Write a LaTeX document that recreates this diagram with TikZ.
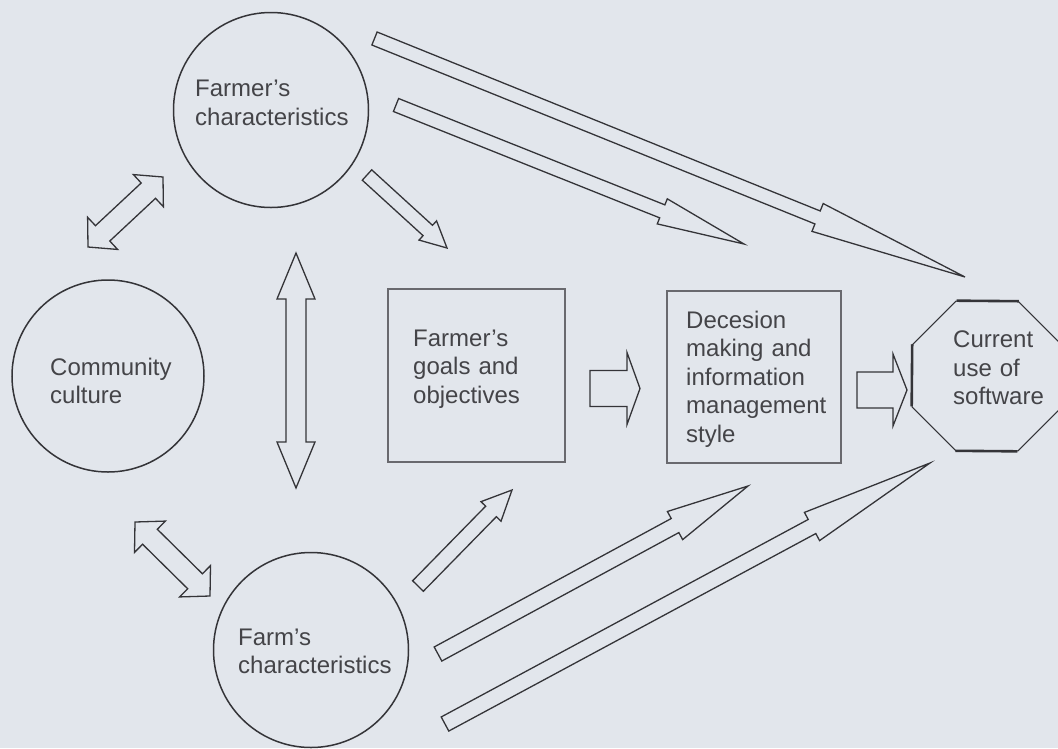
\documentclass[tikz,border=0pt]{standalone}
\usepackage{fontspec}
\setmainfont{Liberation Sans}
\usetikzlibrary{calc,shapes.geometric}

\definecolor{paper}{RGB}{226,230,236}
\definecolor{ink}{RGB}{52,52,56}
\definecolor{boxink}{RGB}{105,105,110}
\definecolor{textink}{RGB}{68,68,72}

\tikzset{
  circ/.style={draw=ink, line width=1.5pt, circle, minimum size=#1, inner sep=0pt},
  box/.style={draw=boxink, line width=1.1pt, rectangle, inner sep=0pt},
  octa/.style={draw=ink, line width=1pt, regular polygon, regular polygon sides=8,
    minimum size=162pt, inner sep=0pt},
  nodetext/.style={text=textink, font=\fontsize{24pt}{28.5pt}\selectfont,
    text width=170pt, align=left, inner sep=0pt, anchor=base west},
  blockarrow/.style={draw=ink, line width=1.3pt, line join=miter},
  edgeheavy/.style={draw=ink, line width=2.6pt},
}

% hollow block arrow from #2 (tail) to #3 (tip):
% #4 half shaft width, #5 half head width, #6 head length
\newcommand{\blockarrowsingle}[6]{%
  \coordinate (#1-n) at ($(#3)!#6!(#2)$);
  \draw[blockarrow] ($(#2)!#4!90:(#3)$) -- ($(#1-n)!#4!90:(#3)$)
    -- ($(#1-n)!#5!90:(#3)$) -- (#3) -- ($(#1-n)!#5!-90:(#3)$)
    -- ($(#1-n)!#4!-90:(#3)$) -- ($(#2)!#4!-90:(#3)$) -- cycle;
}
% hollow double-headed block arrow between #2 and #3
\newcommand{\blockarrowdouble}[6]{%
  \coordinate (#1-na) at ($(#2)!#6!(#3)$);
  \coordinate (#1-nb) at ($(#3)!#6!(#2)$);
  \draw[blockarrow] (#2) -- ($(#1-na)!#5!90:(#3)$) -- ($(#1-na)!#4!90:(#3)$)
    -- ($(#1-nb)!#4!90:(#3)$) -- ($(#1-nb)!#5!90:(#3)$) -- (#3)
    -- ($(#1-nb)!#5!-90:(#3)$) -- ($(#1-nb)!#4!-90:(#3)$)
    -- ($(#1-na)!#4!-90:(#3)$) -- ($(#1-na)!#5!-90:(#3)$) -- cycle;
}

\begin{document}
\begin{tikzpicture}[x=1pt, y=-1pt]
  \fill[paper] (0,0) rectangle (1058,748);
  \useasboundingbox (0,0) rectangle (1058,748);

  % shapes
  \node[circ=195pt] (farmer) at (271,110) {};
  \node[circ=192pt] (community) at (108,376) {};
  \node[circ=195pt] (farm) at (311,650) {};
  \node[box, minimum width=177pt, minimum height=173pt] (goals) at (476.5,375.5) {};
  \node[box, minimum width=174pt, minimum height=172pt] (decision) at (754,377) {};
  \node[octa] (software) at (987,376) {};
  \draw[edgeheavy] (software.112.5) -- (software.67.5);
  \draw[edgeheavy] (software.247.5) -- (software.292.5);
  \draw[edgeheavy] (software.157.5) -- (software.202.5);

  % texts
  \node[nodetext] (farmer-text) at (195,96.5) {Farmer's\\characteristics};
  \node[nodetext] (community-text) at (50,375) {Community\\culture};
  \node[nodetext] (farm-text) at (238,645) {Farm's\\characteristics};
  \node[nodetext] (goals-text) at (413,346) {Farmer's\\goals and\\objectives};
  \node[nodetext] (decision-text) at (686,328) {Decesion\\making and\\information\\management\\style};
  \node[nodetext] (software-text) at (953,347.5) {Current\\use of\\software};

  % arrow end points
  \coordinate (dA1) at (88,247);   \coordinate (dA2) at (163,177);
  \coordinate (dB1) at (135,522);  \coordinate (dB2) at (210,596);
  \coordinate (dC1) at (296,253);  \coordinate (dC2) at (296,488);
  \coordinate (aT) at (374.5,38.5); \coordinate (aH) at (965,277);
  \coordinate (bT) at (396,105);   \coordinate (bH) at (744,244);
  \coordinate (cT) at (367,175);   \coordinate (cH) at (447,248);
  \coordinate (dT) at (418,586);   \coordinate (dH) at (512,490);
  \coordinate (eT) at (438,654);   \coordinate (eH) at (748,486);
  \coordinate (fT) at (445,724);   \coordinate (fH) at (930,463);
  \coordinate (gT) at (590,388.5); \coordinate (gH) at (640,388.5);
  \coordinate (hT) at (857,390);   \coordinate (hH) at (907,390);

  % two-way links
  \blockarrowdouble{dA}{dA1}{dA2}{10.5pt}{22pt}{20pt}
  \blockarrowdouble{dB}{dB1}{dB2}{10.5pt}{22pt}{21pt}
  \blockarrowdouble{dC}{dC1}{dC2}{10pt}{19pt}{46pt}

  % influences
  \blockarrowsingle{a}{aT}{aH}{7pt}{15pt}{159pt}
  \blockarrowsingle{b}{bT}{bH}{7pt}{13.5pt}{88pt}
  \blockarrowsingle{c}{cT}{cH}{7pt}{13pt}{26pt}
  \blockarrowsingle{d}{dT}{dH}{7.5pt}{14pt}{30pt}
  \blockarrowsingle{e}{eT}{eH}{8pt}{16pt}{83pt}
  \blockarrowsingle{f}{fT}{fH}{8pt}{16pt}{134pt}
  \blockarrowsingle{g}{gT}{gH}{18pt}{36pt}{13pt}
  \blockarrowsingle{h}{hT}{hH}{18pt}{36pt}{14pt}
\end{tikzpicture}
\end{document}
